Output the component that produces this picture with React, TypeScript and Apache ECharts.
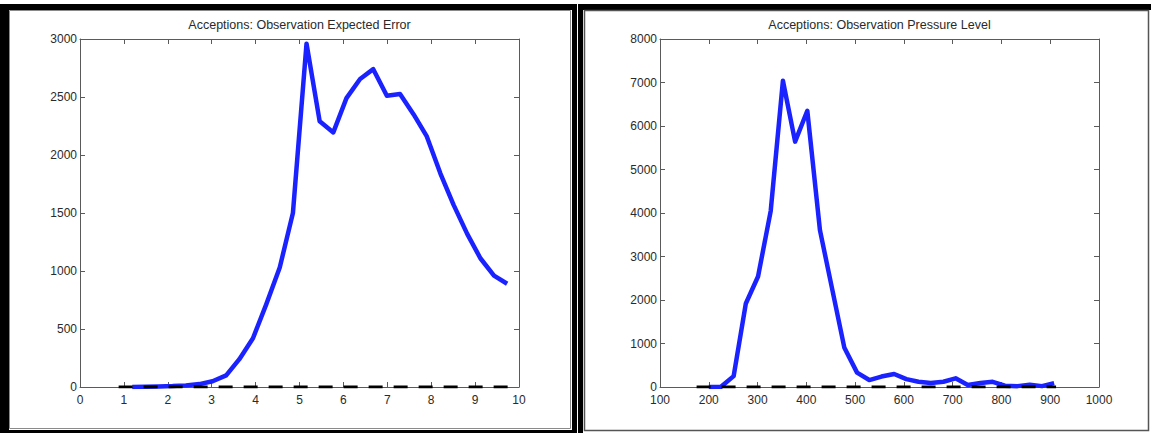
import React, { useEffect, useRef } from "react";
import * as echarts from "echarts";

// ---- Data ----
const titleLeft = "Acceptions: Observation Expected Error";
const titleRight = "Acceptions: Observation Pressure Level";

const errX = [1.19, 1.5, 1.8, 2.11, 2.41, 2.72, 3.02, 3.33, 3.63, 3.94, 4.24, 4.55, 4.85, 5.16, 5.46, 5.77, 6.07, 6.38, 6.68, 6.99, 7.29, 7.6, 7.9, 8.21, 8.51, 8.82, 9.12, 9.43, 9.73];
const errAcc = [0, 2, 5, 8, 14, 25, 50, 100, 240, 420, 710, 1030, 1500, 2960, 2290, 2195, 2490, 2655, 2740, 2510, 2525, 2350, 2160, 1840, 1570, 1320, 1110, 960, 890];
const errRejX = [0.88, 1.19, 1.5, 1.8, 2.11, 2.41, 2.72, 3.02, 3.33, 3.63, 3.94, 4.24, 4.55, 4.85, 5.16, 5.46, 5.77, 6.07, 6.38, 6.68, 6.99, 7.29, 7.6, 7.9, 8.21, 8.51, 8.82, 9.12, 9.43, 9.8];
const errRej = [0, 0, 0, 0, 0, 0, 0, 0, 0, 0, 0, 0, 0, 0, 0, 0, 0, 0, 0, 0, 0, 0, 0, 0, 0, 0, 0, 0, 0, 0];

const presX = [200, 225, 251, 276, 301, 327, 352, 377, 402, 428, 453, 478, 504, 529, 554, 580, 605, 630, 655, 681, 706, 731, 757, 782, 807, 833, 858, 883, 908];
const presAcc = [0, 5, 250, 1920, 2540, 4050, 7040, 5640, 6350, 3600, 2250, 900, 330, 160, 240, 300, 180, 120, 90, 120, 200, 45, 90, 120, 30, 20, 50, 20, 90];
const presRejX = [175, 200, 225, 251, 276, 301, 327, 352, 377, 402, 428, 453, 478, 504, 529, 554, 580, 605, 630, 655, 681, 706, 731, 757, 782, 807, 833, 858, 883, 912];
const presRej = [0, 0, 0, 0, 0, 0, 0, 0, 0, 0, 0, 0, 0, 0, 0, 0, 0, 0, 0, 0, 0, 0, 0, 0, 0, 0, 0, 0, 0, 0];

const leftX = { min: 0, max: 10, interval: 1 };
const leftY = { min: 0, max: 3000, interval: 500 };
const rightX = { min: 100, max: 1000, interval: 100 };
const rightY = { min: 0, max: 8000, interval: 1000 };

// ---- Style ----
const FONT = "'Liberation Sans', Arial, Helvetica, sans-serif";
const AXIS_COLOR = "#5a5a5a";
const LABEL_COLOR = "#2a2a2a";
const BLUE = "#1a22ff";

function pairs(xs: number[], ys: number[]) {
  return xs.map((x, i) => [x, ys[i]]);
}

const plain = (v: number) => String(v);

function xAxes(grid: number, r: { min: number; max: number; interval: number }) {
  const base = {
    type: "value" as const,
    gridIndex: grid,
    min: r.min,
    max: r.max,
    interval: r.interval,
    splitLine: { show: false },
    axisLine: { show: true, onZero: false, lineStyle: { color: AXIS_COLOR, width: 1 } },
    axisTick: { show: true, inside: true, length: 5, lineStyle: { color: AXIS_COLOR, width: 1 } },
  };
  return [
    {
      ...base,
      position: "bottom",
      axisLabel: { show: true, margin: 7, fontSize: 12, lineHeight: 12, color: LABEL_COLOR, fontFamily: FONT, formatter: plain },
    },
    { ...base, position: "top", axisLabel: { show: false } },
  ];
}

function yAxes(grid: number, r: { min: number; max: number; interval: number }) {
  const base = {
    type: "value" as const,
    gridIndex: grid,
    min: r.min,
    max: r.max,
    interval: r.interval,
    splitLine: { show: false },
    axisLine: { show: true, onZero: false, lineStyle: { color: AXIS_COLOR, width: 1 } },
    axisTick: { show: true, inside: true, length: 5, lineStyle: { color: AXIS_COLOR, width: 1 } },
  };
  return [
    {
      ...base,
      position: "left",
      axisLabel: { show: true, margin: 3, fontSize: 12, lineHeight: 12, color: LABEL_COLOR, fontFamily: FONT, formatter: plain },
    },
    { ...base, position: "right", axisLabel: { show: false } },
  ];
}

function frameRect(x: number, y: number, w: number, h: number, fill: string) {
  return { type: "rect", shape: { x, y, width: w, height: h }, style: { fill }, silent: true };
}

export default function App() {
  const ref = useRef<HTMLDivElement>(null);
  useEffect(() => {
    document.body.style.margin = "0";
    const chart = echarts.init(ref.current!, null, { renderer: "svg" });
    const option: any = {
      animation: false,
      backgroundColor: "#ffffff",
      grid: [
        { left: 80, top: 39, width: 439, height: 348 },
        { left: 660, top: 39, width: 439, height: 348 },
      ],
      xAxis: [...xAxes(0, leftX), ...xAxes(1, rightX)],
      yAxis: [...yAxes(0, leftY), ...yAxes(1, rightY)],
      series: [
        {
          type: "line",
          name: "acc-err",
          xAxisIndex: 0,
          yAxisIndex: 0,
          data: pairs(errX, errAcc),
          symbol: "none",
          lineStyle: { color: BLUE, width: 4.5, join: "round" },
          z: 2,
        },
        {
          type: "line",
          name: "rej-err",
          xAxisIndex: 0,
          yAxisIndex: 0,
          data: pairs(errRejX, errRej),
          symbol: "none",
          lineStyle: { color: "#000000", width: 3, type: [14, 11] },
          z: 3,
        },
        {
          type: "line",
          name: "acc-pres",
          xAxisIndex: 2,
          yAxisIndex: 2,
          data: pairs(presX, presAcc),
          symbol: "none",
          lineStyle: { color: BLUE, width: 4.5, join: "round" },
          z: 2,
        },
        {
          type: "line",
          name: "rej-pres",
          xAxisIndex: 2,
          yAxisIndex: 2,
          data: pairs(presRejX, presRej),
          symbol: "none",
          lineStyle: { color: "#000000", width: 3, type: [14, 11] },
          z: 3,
        },
      ],
      graphic: [
        // left panel frame
        frameRect(0, 4, 577, 6, "#000"),
        frameRect(0, 4, 9, 429, "#000"),
        frameRect(572, 4, 5, 429, "#000"),
        frameRect(0, 430, 577, 3, "#000"),
        {
          type: "rect",
          shape: { x: 9.5, y: 10.5, width: 561, height: 418 },
          style: { fill: "none", stroke: "#8a8a8a", lineWidth: 1 },
          silent: true,
        },
        // right panel frame
        frameRect(578, 4, 573, 6, "#000"),
        frameRect(578, 4, 5, 429, "#000"),
        {
          type: "rect",
          shape: { x: 584.5, y: 10.5, width: 564, height: 420 },
          style: { fill: "none", stroke: "#555", lineWidth: 1.5 },
          silent: true,
        },
        {
          type: "text",
          x: 299.5,
          y: 25,
          style: {
            text: titleLeft,
            fontSize: 12.5,
            fontFamily: FONT,
            fill: LABEL_COLOR,
            textAlign: "center",
            textVerticalAlign: "middle",
          },
        },
        {
          type: "text",
          x: 879.5,
          y: 25,
          style: {
            text: titleRight,
            fontSize: 12.5,
            fontFamily: FONT,
            fill: LABEL_COLOR,
            textAlign: "center",
            textVerticalAlign: "middle",
          },
        },
      ],
    };
    chart.setOption(option);
    return () => chart.dispose();
  }, []);
  return (
    <div
      ref={ref}
      style={{ position: "absolute", left: 0, top: 0, width: 1151, height: 433 }}
    />
  );
}
